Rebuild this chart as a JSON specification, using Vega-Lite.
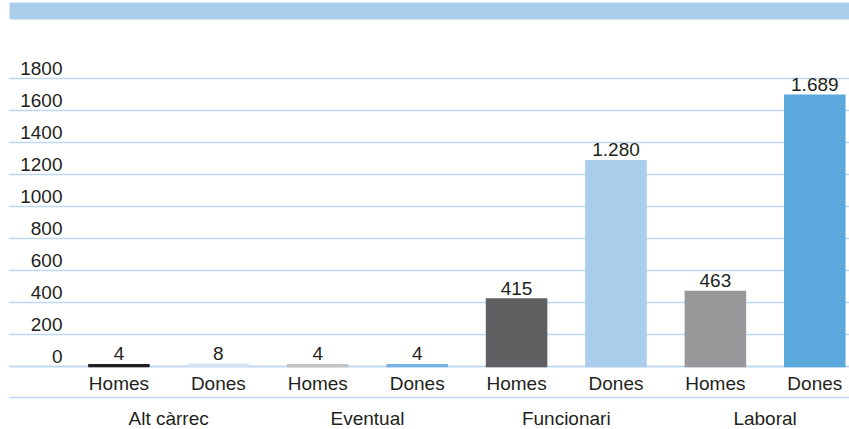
{
  "$schema": "https://vega.github.io/schema/vega-lite/v6.json",
  "width": 840,
  "height": 288,
  "autosize": "none",
  "padding": {"left": 9, "top": 78, "right": 0, "bottom": 63},
  "background": "white",
  "config": {
    "locale": {"number": {"decimal": ",", "thousands": ".", "grouping": [3], "currency": ["", " €"]}},
    "view": {"stroke": null},
    "font": "Liberation Sans",
    "axis": {"labelFont": "Liberation Sans", "labelFontSize": 19, "labelColor": "#231f20", "title": null}
  },
  "data": {
    "values": [
      {"grup": "Alt càrrec", "sexe": "Homes", "key": "Alt càrrec|Homes", "valor": 4},
      {"grup": "Alt càrrec", "sexe": "Dones", "key": "Alt càrrec|Dones", "valor": 8},
      {"grup": "Eventual", "sexe": "Homes", "key": "Eventual|Homes", "valor": 4},
      {"grup": "Eventual", "sexe": "Dones", "key": "Eventual|Dones", "valor": 4},
      {"grup": "Funcionari", "sexe": "Homes", "key": "Funcionari|Homes", "valor": 415},
      {"grup": "Funcionari", "sexe": "Dones", "key": "Funcionari|Dones", "valor": 1280},
      {"grup": "Laboral", "sexe": "Homes", "key": "Laboral|Homes", "valor": 463},
      {"grup": "Laboral", "sexe": "Dones", "key": "Laboral|Dones", "valor": 1689}
    ]
  },
  "encoding": {
    "y": {
      "field": "valor", "type": "quantitative",
      "scale": {"domain": [0, 1800], "nice": false},
      "axis": {"title": null, "values": [0, 200, 400, 600, 800, 1000, 1200, 1400, 1600, 1800], "tickCount": 10, "format": "d", "domain": false, "ticks": false, "grid": true, "gridColor": "#bdd7ee", "gridWidth": 1.5, "labelAlign": "right", "labelPadding": -53, "labelBaseline": "alphabetic", "labelOffset": -4, "labelOverlap": false, "labelFlush": false}
    }
  },
  "resolve": {"axis": {"x": "independent"}},
  "layer": [
    {
      "mark": {"type": "bar", "strokeWidth": 2.5},
      "encoding": {
        "x": {
          "field": "key", "type": "nominal", "sort": null,
          "scale": {"paddingInner": 0.406, "paddingOuter": 0.428, "align": 0.945},
          "axis": {"orient": "bottom", "title": null, "labelExpr": "split(datum.value,'|')[1]", "labelAngle": 0, "ticks": false, "domain": true, "domainColor": "#bdd7ee", "domainWidth": 1.5, "labelPadding": 8, "grid": false, "labelOverlap": false}
        },
        "color": {
          "field": "key", "type": "nominal", "sort": null, "legend": null,
          "scale": {
            "domain": ["Alt càrrec|Homes", "Alt càrrec|Dones", "Eventual|Homes", "Eventual|Dones", "Funcionari|Homes", "Funcionari|Dones", "Laboral|Homes", "Laboral|Dones"],
            "range": ["#231f20", "#d3e4f5", "#c3c3c4", "#78b4e3", "#5f5f61", "#abcdec", "#98989b", "#5aa8dc"]
          }
        },
        "stroke": {
          "field": "key", "type": "nominal", "sort": null, "legend": null,
          "scale": {
            "domain": ["Alt càrrec|Homes", "Alt càrrec|Dones", "Eventual|Homes", "Eventual|Dones", "Funcionari|Homes", "Funcionari|Dones", "Laboral|Homes", "Laboral|Dones"],
            "range": ["#231f20", "#d3e4f5", "#c3c3c4", "#78b4e3", "#5f5f61", "#abcdec", "#98989b", "#5aa8dc"]
          }
        }
      }
    },
    {
      "mark": {"type": "text", "baseline": "alphabetic", "dy": -5, "fontSize": 19, "font": "Liberation Sans", "color": "#231f20"},
      "encoding": {
        "x": {
          "field": "key", "type": "nominal", "sort": null,
          "axis": {"orient": "bottom", "offset": 31, "title": null, "labelExpr": "split(datum.value,'|')[1] == 'Homes' ? split(datum.value,'|')[0] : ''", "labelOffset": 49.7, "ticks": false, "domain": true, "domainColor": "#bdd7ee", "domainWidth": 1.5, "labelPadding": 12, "labelAngle": 0, "labelOverlap": false, "grid": false}
        },
        "text": {"field": "valor", "type": "quantitative", "format": ",d"}
      }
    },
    {
      "mark": {"type": "bar", "opacity": 0},
      "encoding": {
        "x": {
          "field": "key", "type": "nominal", "sort": null,
          "axis": {"orient": "top", "offset": 67.5, "title": null, "labels": false, "ticks": false, "domain": true, "domainColor": "#abcdec", "domainWidth": 17, "grid": false}
        }
      }
    }
  ]
}
